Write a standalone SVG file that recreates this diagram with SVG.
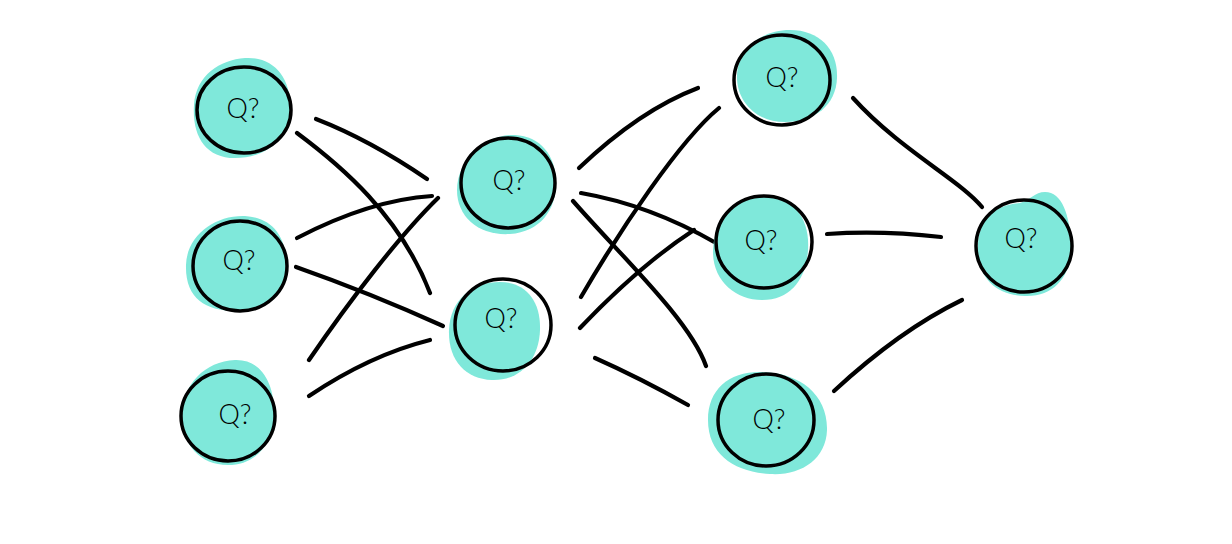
<svg xmlns="http://www.w3.org/2000/svg" width="1232" height="544" viewBox="0 0 1232 544">
<style>
.blob{fill:#7FE8DA;stroke:none}
.ring{fill:none;stroke:#000;stroke-width:3.5}
.lbl{font-family:Lato,"Open Sans","Liberation Sans",sans-serif;font-weight:300;font-size:27px;fill:#000;text-anchor:middle;dominant-baseline:central}
.edge{fill:none;stroke:#000;stroke-width:4.2;stroke-linecap:round}
</style>
<rect width="1232" height="544" fill="#fff"/>
<g id="connectors">
<path class="edge" d="M316,119 Q370,140 427,179"/>
<path class="edge" d="M297,133 C340,165 400,215 430,293"/>
<path class="edge" d="M297,238 Q370,200 432,196"/>
<path class="edge" d="M296,267 Q370,293 443,326"/>
<path class="edge" d="M309,360 C350,300 400,235 438,198"/>
<path class="edge" d="M309,396 Q370,355 430,340"/>
<path class="edge" d="M579,168 Q640,110 698,88"/>
<path class="edge" d="M581,297 C620,230 680,140 719,108"/>
<path class="edge" d="M581,193 Q650,205 716,243"/>
<path class="edge" d="M573,201 C620,255 690,320 706,366"/>
<path class="edge" d="M580,328 Q640,265 694,230"/>
<path class="edge" d="M595,358 Q640,378 688,405"/>
<path class="edge" d="M853,98 C900,150 960,180 982,207"/>
<path class="edge" d="M827,234 Q880,230 941,237"/>
<path class="edge" d="M834,391 Q900,330 962,300"/>
</g>
<g id="n-l1">
<path class="blob" d="M245,58 C275,56 292,80 290,110 C289,140 265,158 235,158 C205,158 192,135 194,105 C196,75 220,60 245,58Z"/>
<ellipse class="ring" cx="244" cy="110" rx="47" ry="43"/>
<text class="lbl" x="243" y="107">Q?</text>
</g>
<g id="n-l2">
<path class="blob" d="M245,216 C275,218 287,240 286,266 C285,295 262,311 235,311 C205,311 185,298 186,265 C187,235 215,215 245,216Z"/>
<ellipse class="ring" cx="240" cy="266" rx="47" ry="45"/>
<text class="lbl" x="239" y="259">Q?</text>
</g>
<g id="n-l3">
<path class="blob" d="M235,360 C262,359 275,385 274,415 C273,445 255,465 228,465 C200,465 182,445 182,415 C182,385 205,361 235,360Z"/>
<ellipse class="ring" cx="228" cy="416" rx="47" ry="45"/>
<text class="lbl" x="235" y="413">Q?</text>
</g>
<g id="n-m1">
<path class="blob" d="M515,135 C540,136 556,155 556,183 C556,210 540,232 510,234 C480,236 457,218 457,190 C457,160 485,134 515,135Z"/>
<ellipse class="ring" cx="508" cy="183" rx="47" ry="45"/>
<text class="lbl" x="509" y="179">Q?</text>
</g>
<g id="n-m2">
<path class="blob" d="M500,282 C525,282 541,300 540,330 C539,360 520,381 492,380 C465,379 448,360 449,330 C450,300 472,282 500,282Z"/>
<ellipse class="ring" cx="503" cy="325" rx="48" ry="46"/>
<text class="lbl" x="501" y="317">Q?</text>
</g>
<g id="n-r1">
<path class="blob" d="M790,30 C820,30 838,50 837,78 C836,105 815,122 785,122 C755,122 736,100 737,75 C738,50 760,30 790,30Z"/>
<ellipse class="ring" cx="782" cy="80" rx="48" ry="45"/>
<text class="lbl" x="782" y="76">Q?</text>
</g>
<g id="n-r2">
<path class="blob" d="M765,197 C795,197 810,220 808,250 C806,280 790,300 762,300 C735,300 712,280 713,250 C714,220 735,197 765,197Z"/>
<ellipse class="ring" cx="764" cy="242" rx="48" ry="46"/>
<text class="lbl" x="761" y="239">Q?</text>
</g>
<g id="n-r3">
<path class="blob" d="M760,372 C800,372 828,395 827,430 C826,460 800,476 770,474 C735,472 708,455 708,420 C708,390 728,372 760,372Z"/>
<ellipse class="ring" cx="766" cy="420" rx="48" ry="46"/>
<text class="lbl" x="769" y="418">Q?</text>
</g>
<g id="n-out">
<path class="blob" d="M1045,192 C1062,192 1070,215 1071,245 C1072,275 1055,297 1025,296 C995,295 978,278 978,248 C978,218 995,205 1020,203 C1030,200 1035,192 1045,192Z"/>
<ellipse class="ring" cx="1024" cy="246" rx="48" ry="46"/>
<text class="lbl" x="1021" y="237">Q?</text>
</g>
</svg>
